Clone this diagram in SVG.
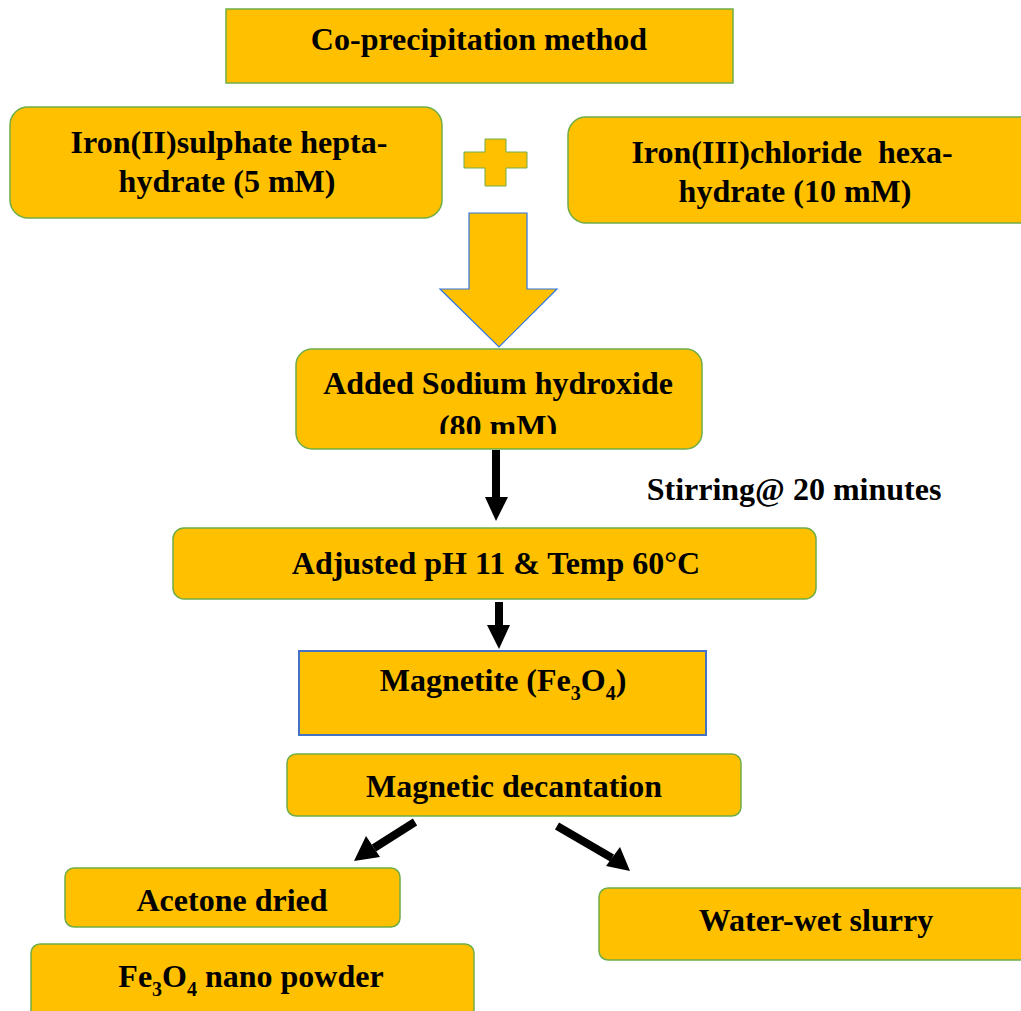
<svg xmlns="http://www.w3.org/2000/svg" width="1021" height="1011" viewBox="0 0 1021 1011">
<defs>
<style>
.box{fill:#FFC000;stroke:#70AD47;stroke-width:1.5}
.bbox{fill:#FFC000;stroke:#4472C4;stroke-width:2}
.t{font-family:"Liberation Serif","Times New Roman",serif;font-weight:bold;font-size:32px;fill:#000;text-anchor:middle}
.conn{stroke:#000;stroke-width:8;fill:none}
.head{fill:#000}
</style>
<clipPath id="clipNaoh"><rect x="290" y="340" width="420" height="94"/></clipPath>
</defs>
<rect width="1021" height="1011" fill="#fff"/>

<g id="node-coprecip">
<rect class="box" x="226" y="9" width="507" height="74"/>
<text class="t" x="479" y="50">Co-precipitation method</text>
</g>

<g id="node-iron2">
<rect class="box" x="10" y="107" width="432" height="111" rx="18"/>
<text class="t" x="229" y="153">Iron(II)sulphate hepta-</text>
<text class="t" x="227" y="192">hydrate (5 mM)</text>
</g>

<g id="node-plus">
<path d="M485,139 H506 V152 H527 V168 H506 V186 H485 V168 H464 V152 H485 Z" fill="#FFC000" stroke="#70AD47" stroke-width="1"/>
</g>

<g id="node-iron3">
<rect class="box" x="568" y="117" width="470" height="106" rx="18"/>
<text class="t" x="792" y="163" xml:space="preserve" style="white-space:pre">Iron(III)chloride  hexa-</text>
<text class="t" x="795" y="202">hydrate (10 mM)</text>
</g>

<g id="node-bigarrow">
<path d="M469,213 H527 V289 H557 L499,347 L440,289 H469 Z" fill="#FFC000" stroke="#2E75E6" stroke-width="1.2"/>
</g>

<g id="node-naoh">
<rect class="box" x="296" y="349" width="406" height="100" rx="16"/>
<text class="t" x="498" y="394">Added Sodium hydroxide</text>
<text class="t" x="498" y="437" clip-path="url(#clipNaoh)">(80 mM)</text>
</g>

<g id="label-stirring">
<text class="t" x="794" y="500">Stirring@ 20 minutes</text>
</g>

<g id="node-ph">
<rect class="box" x="173" y="528" width="643" height="71" rx="11"/>
<text class="t" x="496" y="574">Adjusted pH 11 &amp; Temp 60°C</text>
</g>

<g id="node-magnetite">
<rect class="bbox" x="299" y="651" width="407" height="84"/>
<text class="t" x="503" y="691">Magnetite (Fe<tspan font-size="20" dy="9">3</tspan><tspan dy="-9">O</tspan><tspan font-size="20" dy="9">4</tspan><tspan dy="-9">)</tspan></text>
</g>

<g id="node-decant">
<rect class="box" x="287" y="754" width="454" height="62" rx="9"/>
<text class="t" x="514" y="797">Magnetic decantation</text>
</g>

<g id="node-acetone">
<rect class="box" x="65" y="868" width="335" height="59" rx="9"/>
<text class="t" x="232" y="911">Acetone dried</text>
</g>

<g id="node-powder">
<rect class="box" x="31" y="944" width="443" height="80" rx="9"/>
<text class="t" x="251" y="987">Fe<tspan font-size="20" dy="9">3</tspan><tspan dy="-9">O</tspan><tspan font-size="20" dy="9">4</tspan><tspan dy="-9"> nano powder</tspan></text>
</g>

<g id="node-slurry">
<rect class="box" x="599" y="888" width="440" height="72" rx="9"/>
<text class="t" x="816" y="931">Water-wet slurry</text>
</g>

<g id="connectors">
<line class="conn" x1="496" y1="450" x2="496" y2="499"/>
<path class="head" d="M485,497 L508,497 L496,521 Z"/>
<line class="conn" x1="499" y1="602" x2="499" y2="627"/>
<path class="head" d="M487,625 L510,625 L499,649 Z"/>
<line class="conn" x1="415" y1="822" x2="374" y2="848"/>
<path class="head" d="M366,836 L380,857 L354,861 Z"/>
<line class="conn" x1="557" y1="826" x2="612" y2="858"/>
<path class="head" d="M606,866 L620,847 L630,871 Z"/>
</g>
</svg>
